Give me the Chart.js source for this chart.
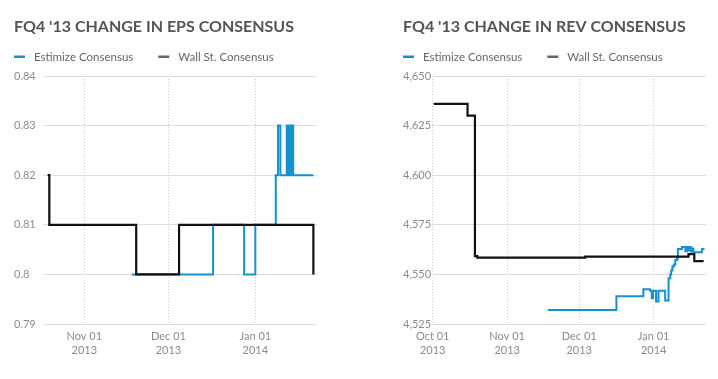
<!DOCTYPE html>
<html>
<head>
<meta charset="utf-8">
<script src="https://cdn.jsdelivr.net/npm/chart.js@4.4.0/dist/chart.umd.min.js"></script>
<style>
  html, body { margin: 0; padding: 0; background: #fff; }
  body { width: 718px; height: 379px; position: relative; overflow: hidden; }
  .box { position: absolute; top: 0; height: 379px; }
  #leftBox { left: 0; width: 340px; }
  #rightBox { left: 389px; width: 329px; }
</style>
</head>
<body>
<div class="box" id="leftBox"><canvas id="eps" width="340" height="379"></canvas></div>
<div class="box" id="rightBox"><canvas id="rev" width="329" height="379"></canvas></div>
<script>
// ---------- DATA ----------
const seriesNames = ['Estimize Consensus', 'Wall St. Consensus'];

const xTickDates  = ['2013-10-01T00:00', '2013-11-01T00:00', '2013-12-01T00:00', '2014-01-01T00:00'];
const xTickLabels = [['Oct 01', '2013'], ['Nov 01', '2013'], ['Dec 01', '2013'], ['Jan 01', '2014']];

const epsYTicks  = [0.79, 0.80, 0.81, 0.82, 0.83, 0.84];
const epsYLabels = ['0.79', '0.8', '0.81', '0.82', '0.83', '0.84'];
const revYTicks  = [4525, 4550, 4575, 4600, 4625, 4650];
const revYLabels = ['4,525', '4,550', '4,575', '4,600', '4,625', '4,650'];

// EPS chart
const epsWallStDates  = ['2013-10-18T22:00', '2013-10-19T12:00', '2013-11-19T12:00', '2013-12-04T19:00', '2014-01-21T17:00'];
const epsWallStValues = [0.82, 0.81, 0.80, 0.81, 0.80];

const epsEstimizeDates = ['2013-11-17T22:00', '2013-12-16T22:00', '2013-12-28T00:00', '2014-01-01T00:00',
  '2014-01-08T07:00', '2014-01-09T02:00', '2014-01-09T22:00', '2014-01-12T05:00', '2014-01-12T15:00',
  '2014-01-13T02:00', '2014-01-13T10:00', '2014-01-13T22:00', '2014-01-14T12:00', '2014-01-21T17:00'];
const epsEstimizeValues = [0.80, 0.81, 0.80, 0.81, 0.82, 0.83, 0.82, 0.83, 0.82, 0.83, 0.82, 0.83, 0.82, 0.82];

// Revenue chart
const revWallStDates  = ['2013-10-01T10:00', '2013-10-15T12:00', '2013-10-18T14:00', '2013-10-19T14:00',
  '2013-12-03T12:00', '2014-01-15T12:00', '2014-01-17T22:00', '2014-01-21T19:00'];
const revWallStValues = [4636, 4630, 4559.2, 4558.5, 4559, 4560.2, 4556.7, 4556.7];

const revEstimizeDates = ['2013-11-17T22:00', '2013-12-16T12:00', '2013-12-27T17:00', '2013-12-30T12:00',
  '2013-12-31T05:00', '2013-12-31T17:00', '2014-01-02T00:00', '2014-01-03T00:00', '2014-01-05T19:00',
  '2014-01-07T05:00', '2014-01-07T22:00', '2014-01-08T07:00', '2014-01-08T19:00', '2014-01-09T10:00',
  '2014-01-10T00:00', '2014-01-10T17:00', '2014-01-11T02:00', '2014-01-12T19:00', '2014-01-14T05:00',
  '2014-01-14T22:00', '2014-01-15T12:00', '2014-01-16T00:00', '2014-01-16T12:00', '2014-01-16T22:00',
  '2014-01-17T14:00', '2014-01-20T10:00', '2014-01-21T02:00', '2014-01-21T19:00'];
const revEstimizeValues = [4532, 4539, 4542.5, 4541.8,
  4538, 4541.8, 4536.3, 4541.8, 4536.8,
  4548, 4550, 4552, 4554, 4555,
  4557.2, 4558, 4562.8, 4563.8, 4561.7,
  4563.8, 4562, 4563.8, 4561.5, 4563,
  4561.2, 4561.2, 4562.8, 4562.3];

// ---------- HELPERS ----------
const EPOCH = Date.UTC(2013, 9, 1);
function dayOf(s) { return (Date.parse(s + 'Z') - EPOCH) / 86400000; }
function pts(dates, values) { return dates.map((d, i) => ({ x: dayOf(d), y: values[i] })); }

const BLUE = '#1590d0';
const BLACK = '#111111';
const legendColors = [BLUE, '#666666'];
const FONT = 'Lato, "Open Sans", sans-serif';

const headerPlugin = {
  id: 'header',
  afterDraw(chart, args, opts) {
    const ctx = chart.ctx;
    ctx.save();
    ctx.textBaseline = 'alphabetic';
    ctx.textAlign = 'left';
    ctx.fillStyle = '#555555';
    ctx.font = 'bold 16px ' + FONT;
    ctx.fillText(opts.title, 14, 32);
    ctx.font = '11.5px ' + FONT;
    let x = 14;
    seriesNames.forEach((name, i) => {
      ctx.fillStyle = legendColors[i];
      ctx.fillRect(x, 55.5, 11, 2.5);
      ctx.fillStyle = '#666666';
      ctx.fillText(name, x + 20, 61);
      x += 20 + ctx.measureText(name).width + 25;
    });
    ctx.restore();
  }
};

function makeChart(id, title, est, wall, xMin, xMax, yTicks, yLabels, padRight) {
  const xs = xTickDates.map(dayOf);
  new Chart(document.getElementById(id), {
    type: 'line',
    data: {
      datasets: [
        { label: seriesNames[0], data: est, borderColor: BLUE, borderWidth: 2, stepped: true, pointRadius: 0, fill: false, order: 1 },
        { label: seriesNames[1], data: wall, borderColor: BLACK, borderWidth: 2.2, stepped: true, pointRadius: 0, fill: false, order: 0 }
      ]
    },
    options: {
      responsive: false,
      animation: false,
      layout: { padding: { left: 14, right: padRight, top: 76, bottom: 10 } },
      plugins: {
        legend: { display: false },
        title: { display: false },
        tooltip: { enabled: false },
        header: { title: title }
      },
      scales: {
        x: {
          type: 'linear',
          min: dayOf(xMin),
          max: dayOf(xMax),
          afterBuildTicks: (s) => { s.ticks = xs.filter(v => v >= s.min && v <= s.max).map(v => ({ value: v })); },
          afterFit: (s) => { s.height = 45; },
          ticks: {
            autoSkip: false,
            maxRotation: 0,
            padding: 5,
            color: '#8f8a86',
            font: { family: FONT, size: 11, lineHeight: 1.3 },
            callback: (v) => { const i = xs.indexOf(v); return i >= 0 ? xTickLabels[i] : ''; }
          },
          grid: { color: '#c8c8c8', lineWidth: 1, drawTicks: false },
          border: { display: false, dash: [1, 2] }
        },
        y: {
          min: yTicks[0],
          max: yTicks[yTicks.length - 1],
          afterBuildTicks: (s) => { s.ticks = yTicks.map(v => ({ value: v })); },
          afterFit: (s) => { s.width = 29; },
          ticks: {
            crossAlign: 'far',
            padding: 0,
            color: '#8f8a86',
            font: { family: FONT, size: 11 },
            callback: (v) => { const i = yTicks.findIndex(t => Math.abs(t - v) < 1e-9); return i >= 0 ? yLabels[i] : ''; }
          },
          grid: { color: '#dddddd', lineWidth: 1, drawTicks: false },
          border: { display: false }
        }
      }
    },
    plugins: [headerPlugin]
  });
}

makeChart('eps', "FQ4 '13 CHANGE IN EPS CONSENSUS",
  pts(epsEstimizeDates, epsEstimizeValues), pts(epsWallStDates, epsWallStValues),
  '2013-10-17T06:00', '2014-01-23T00:00', epsYTicks, epsYLabels, 23);

makeChart('rev', "FQ4 '13 CHANGE IN REV CONSENSUS",
  pts(revEstimizeDates, revEstimizeValues), pts(revWallStDates, revWallStValues),
  '2013-09-30T17:00', '2014-01-22T19:00', revYTicks, revYLabels, 12);
</script>
</body>
</html>
